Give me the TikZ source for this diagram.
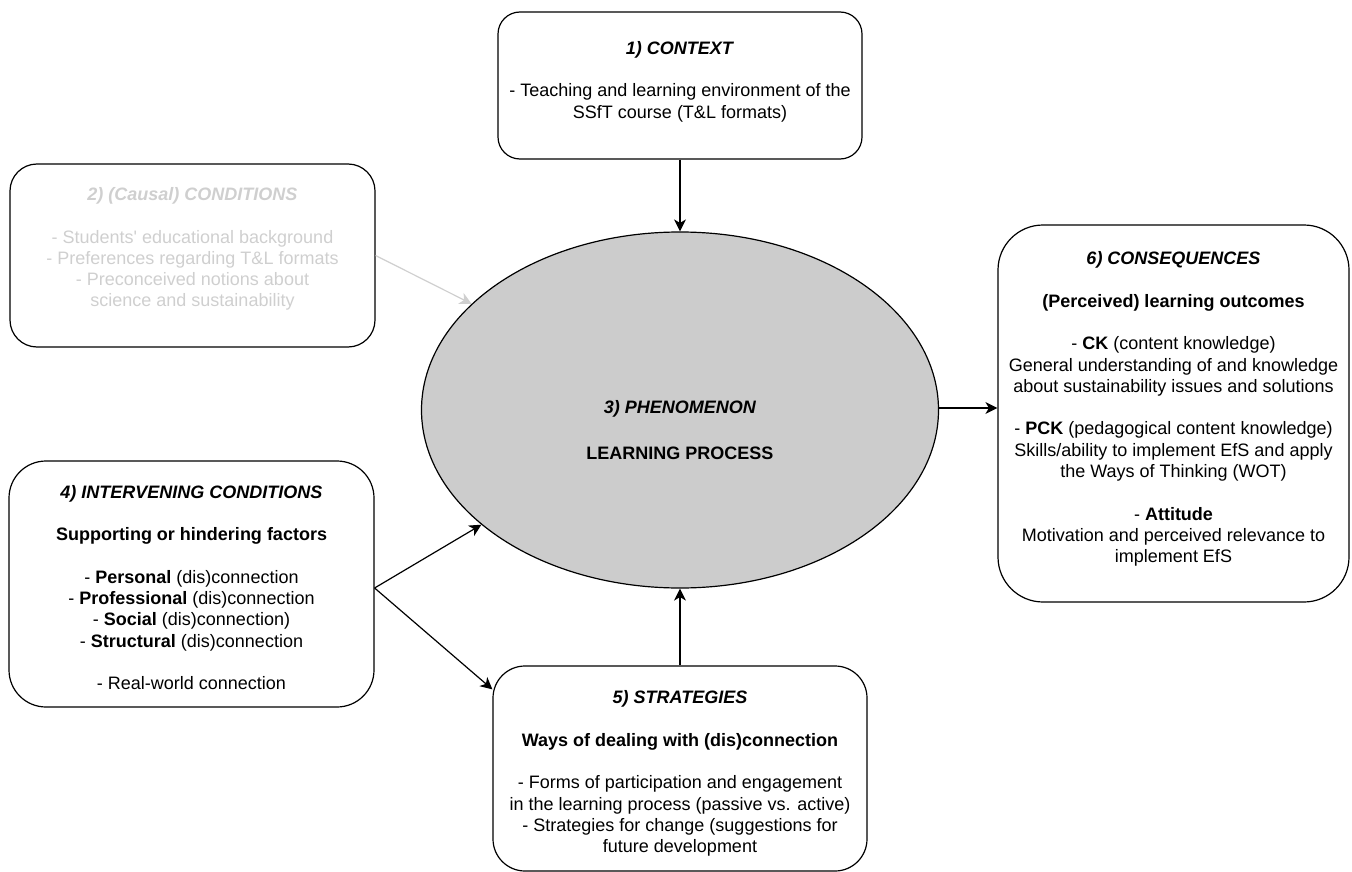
\documentclass[tikz,border=0pt]{standalone}
\usepackage{fontspec}
\setmainfont{Liberation Sans}
\usetikzlibrary{shapes.geometric,arrows.meta,calc}
\definecolor{phfill}{HTML}{CCCCCC}
\definecolor{faded}{HTML}{CFCFCF}

\begin{document}
\begin{tikzpicture}[x=1pt,y=-1pt,
  box/.style={draw=black, line width=1.2pt, rounded corners=#1, inner sep=0pt},
  box/.default=25pt,
  txt/.style={align=center, inner sep=0pt,
    font=\fontsize{18pt}{21.3pt}\selectfont},
  conn/.style={line width=1.2pt, -{Stealth[length=12pt,width=12pt,inset=3.5pt]}},
]
\useasboundingbox (0,0) rectangle (1352,872);

% central phenomenon
\node[ellipse, draw=black, line width=1.2pt, fill=phfill, inner sep=0pt,
      minimum width=517pt, minimum height=356pt] (ph) at (680,410) {};

% surrounding boxes
\node[box=22pt, minimum width=364pt, minimum height=147pt] (ctx)  at (680,85.5) {};
\node[box=27pt, minimum width=365pt, minimum height=183pt] (cond) at (192.5,255.5) {};
\node[box=37pt, minimum width=365pt, minimum height=246pt] (iv)   at (191.5,584) {};
\node[box=32pt, minimum width=374pt, minimum height=205pt] (st)   at (680,768.5) {};
\node[box=45pt, minimum width=351pt, minimum height=377pt] (cons) at (1173.5,413.5) {};

% box texts
\node[txt] (ctxt) at (680,81.5)
  {\textbf{\textit{1) CONTEXT}}\\[21.3pt]
   - Teaching and learning environment of the\\
   SSfT course (T\&L formats)};

\node[txt, text=faded] (condt) at (192.5,249)
  {\textbf{\textit{2) (Causal) CONDITIONS}}\\[21.3pt]
   - Students\textquotesingle{} educational background\\
   - Preferences regarding T\&L formats\\
   - Preconceived notions about\\
   science and sustainability};

\node[txt] (pht) at (680,430)
  {\textbf{\textit{3) PHENOMENON}}\\[25pt]
   \textbf{LEARNING PROCESS}};

\node[txt] (ivt) at (191.5,587.5)
  {\textbf{\textit{4) INTERVENING CONDITIONS}}\\[21.3pt]
   \textbf{Supporting or hindering factors}\\[21.3pt]
   - \textbf{Personal} (dis)connection\\
   - \textbf{Professional} (dis)connection\\
   - \textbf{Social} (dis)connection)\\
   - \textbf{Structural} (dis)connection\\[21.3pt]
   - Real-world connection};

\node[txt] (stt) at (680,773.5)
  {\textbf{\textit{5) STRATEGIES}}\\[21.3pt]
   \textbf{Ways of dealing with (dis)connection}\\[21.3pt]
   - Forms of participation and engagement\\
   in the learning process (passive vs. active)\\
   - Strategies for change (suggestions for\\
   future development};

\node[txt] (const) at (1173.5,409)
  {\textbf{\textit{6) CONSEQUENCES}}\\[21.3pt]
   \textbf{(Perceived) learning outcomes}\\[21.3pt]
   - \textbf{CK} (content knowledge)\\
   General understanding of and knowledge\\
   about sustainability issues and solutions\\[21.3pt]
   - \textbf{PCK} (pedagogical content knowledge)\\
   Skills/ability to implement EfS and apply\\
   the Ways of Thinking (WOT)\\[21.3pt]
   - \textbf{Attitude}\\
   Motivation and perceived relevance to\\
   implement EfS};

% connectors
\draw[conn] (ctx.south) -- (ph.north);
\draw[conn, draw=faded] (cond.east) -- (ph.153);
\draw[conn] ([yshift=-4pt]iv.east) -- (ph.210);
\draw[conn] ([yshift=-4pt]iv.east) -- ([yshift=-24pt]st.north west);
\draw[conn] (st.north) -- (ph.south);
\draw[conn] ([yshift=2pt]ph.east) -- ([yshift=2pt]ph.east -| cons.west);
\end{tikzpicture}
\end{document}
